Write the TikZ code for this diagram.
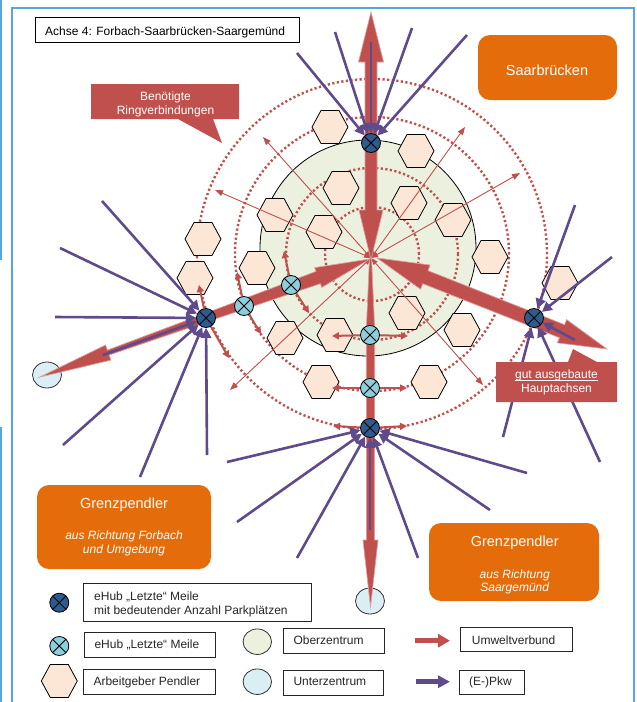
\documentclass[tikz,border=0pt]{standalone}
\usepackage{fontspec}
\setmainfont{Liberation Sans}
\usetikzlibrary{arrows.meta,shapes.geometric}
\definecolor{rd}{HTML}{C0504D}
\definecolor{pu}{HTML}{5F4B8B}
\definecolor{og}{HTML}{E46C0A}
\definecolor{gz}{HTML}{EBF1DE}
\definecolor{hx}{HTML}{FCE6D6}
\definecolor{dh}{HTML}{2E5B8C}
\definecolor{lh}{HTML}{8CCFDC}
\definecolor{uz}{HTML}{DAEEF3}
\definecolor{fr}{HTML}{58A6E0}
\pgfdeclarelayer{bg}
\pgfdeclarelayer{mid}
\pgfsetlayers{bg,mid,main}
\tikzset{
  hub/.style={circle, draw=black, line width=0.8pt, minimum size=19pt, inner sep=0pt,
    path picture={\draw[black, line width=0.8pt]
      (path picture bounding box.north west) -- (path picture bounding box.south east)
      (path picture bounding box.north east) -- (path picture bounding box.south west);}},
  dhub/.style={hub, fill=dh},
  lhub/.style={hub, fill=lh},
  hexa/.pic={\draw[fill=hx, line width=0.8pt] (-18,0) -- (-9,-16.5) -- (9,-16.5) -- (18,0) -- (9,16.5) -- (-9,16.5) -- cycle;},
  ring/.style={draw=rd, line width=2.4pt, dash pattern=on 2.2pt off 2.4pt},
  thinarr/.style={draw=rd, line width=0.9pt, {Triangle[length=7pt,width=5pt]}-{Triangle[length=8pt,width=6pt]}},
  ringarr/.style={draw=rd, line width=2pt, -{Triangle[length=7pt,width=7pt]}},
  pk/.style={draw=pu, line width=2.6pt, -{Triangle[length=10pt,width=10pt]}},
  bigred/.style={fill=rd, draw=rd!55!white, line width=0.7pt},
  uzent/.style={ellipse, draw=black!80, line width=0.8pt, fill=uz, minimum width=29pt, minimum height=26pt, inner sep=0pt},
  wt/.style={text=white, inner sep=0pt, anchor=base, font=\fontsize{12}{14}\selectfont},
  wtb/.style={text=white, inner sep=0pt, anchor=base, font=\fontsize{14.5}{16}\selectfont},
  lg/.style={draw=black!85, line width=0.9pt, fill=white},
  lt/.style={anchor=base west, inner sep=0pt, font=\fontsize{12}{14}\selectfont, text=black!85},
  obox/.style={fill=og, rounded corners=12pt, inner sep=0pt},
}
\begin{document}
\begin{tikzpicture}[x=1pt,y=-1pt]
\useasboundingbox (0,0) rectangle (637,702);
\coordinate (c) at (371,258);
\coordinate (rc) at (372,254);
% hubs
\node[dhub] (d1) at (371,143) {};
\node[dhub] (d2) at (206,318) {};
\node[dhub] (d3) at (534,318) {};
\node[dhub] (d4) at (370,428) {};
\node[lhub] (l1) at (291,285) {};
\node[lhub] (l2) at (244,306) {};
\node[lhub] (l3) at (370,335) {};
\node[lhub] (l4) at (370,388) {};

\begin{pgfonlayer}{bg}
  \fill[white] (0,0) rectangle (637,702);
  \draw[fr, line width=2pt] (12,704) -- (12,8) -- (634,8) -- (634,704);
  \draw[fr, line width=1.5pt] (1,0) -- (1,260) (1,427) -- (1,702);
  \node[circle, fill=gz, draw=black, line width=0.8pt, minimum size=216pt, inner sep=0pt] (oz) at (368,248) {};
  \foreach \r in {47pt,86pt,137pt,175pt} \draw[ring] (rc) circle[radius=\r];
  \foreach \p in {(330,127),(416,151),(341,188),(409,203),(275,215),(324,232),(203,239),(195,278),(257,268),(453,220),(490,257),(560,283),(407,313),(462,330),(335,335),(285,338),(321,382),(429,382)}
    \pic at \p {hexa};
  \node[uzent] (u1) at (47,375) {};
  \node[uzent] (u2) at (370,601) {};
  % thin radial arrows
  \coordinate (t1) at (263,137);
  \coordinate (t2) at (465,127);
  \coordinate (t3) at (520,173);
  \coordinate (t4) at (215,190);
  \coordinate (t5) at (230,390);
  \coordinate (t6) at (483,385);
  \foreach \t in {t1,t2,t3,t4,t5,t6} \draw[thinarr] (c) -- (\t);
  % big red arrows
  \path[bigred] (371,260) -- (383,210) -- (377,210) -- (377,62) -- (383.5,62) -- (371,12) -- (358.5,62) -- (365,62) -- (365,210) -- (359,210) -- cycle;
  \path[bigred] (369.5,258) -- (366.3,330) -- (366.5,540) -- (363,540) -- (370.5,607) -- (378,540) -- (374.5,540) -- (374.7,330) -- (371.5,258) -- cycle;
  \begin{scope}[shift={(370,259)}, rotate=-160.33]
    \path[bigred] (0,0) -- (55,10.5) -- (55,6.5) -- (174,4.2) -- (278,2.6) -- (278,8) -- (350.5,0) -- (278,-8) -- (278,-2.6) -- (174,-4.2) -- (55,-6.5) -- (55,-10.5) -- cycle;
  \end{scope}
  \begin{scope}[shift={(377,258)}, rotate=-21.59]
    \path[bigred] (0,0) -- (52,13) -- (52,7) -- (199,7) -- (199,12.5) -- (247.3,0) -- (199,-12.5) -- (199,-7) -- (52,-7) -- (52,-13) -- cycle;
  \end{scope}
\end{pgfonlayer}

\begin{pgfonlayer}{mid}
  % ring connections
  \coordinate (r21) at (199,285); \coordinate (r22) at (229,358);
  \coordinate (r31) at (237,272); \coordinate (r32) at (261,334);
  \coordinate (r41) at (284,251); \coordinate (r42) at (309,313);
  \coordinate (r51) at (332,336); \coordinate (r52) at (408,336);
  \coordinate (r61) at (332,388); \coordinate (r62) at (407,388);
  \coordinate (r71) at (333,426); \coordinate (r72) at (407,426);
  \draw[ringarr] (d2) -- (r21); \draw[ringarr] (d2) -- (r22);
  \draw[ringarr] (l2) -- (r31); \draw[ringarr] (l2) -- (r32);
  \draw[ringarr] (l1) -- (r41); \draw[ringarr] (l1) -- (r42);
  \draw[ringarr] (l3) -- (r51); \draw[ringarr] (l3) -- (r52);
  \draw[ringarr] (l4) -- (r61); \draw[ringarr] (l4) -- (r62);
  \draw[ringarr] (d4) -- (r71); \draw[ringarr] (d4) -- (r72);
  % car flows
  \coordinate (p11) at (297,53); \coordinate (p12) at (335,32); \coordinate (p13) at (371,42);
  \coordinate (p14) at (412,28); \coordinate (p15) at (467,35);
  \foreach \q in {p11,p12,p13,p14,p15} \draw[pk] (\q) -- (d1);
  \coordinate (p21) at (102,201); \coordinate (p22) at (60,248); \coordinate (p23) at (55,317);
  \coordinate (p24) at (103,355); \coordinate (p25) at (63,445); \coordinate (p26) at (140,477);
  \coordinate (p27) at (207,455);
  \foreach \q in {p21,p22,p23,p24,p25,p26,p27} \draw[pk] (\q) -- (d2);
  \coordinate (p31) at (575,205); \coordinate (p32) at (612,257); \coordinate (p33) at (575,340);
  \coordinate (p34) at (503,437); \coordinate (p35) at (600,462);
  \foreach \q in {p31,p32,p33,p34,p35} \draw[pk] (\q) -- (d3);
  \coordinate (p41) at (227,462); \coordinate (p42) at (237,522); \coordinate (p43) at (297,558);
  \coordinate (p44) at (370,530); \coordinate (p45) at (418,558); \coordinate (p46) at (490,510);
  \coordinate (p47) at (527,473);
  \foreach \q in {p41,p42,p43,p44,p45,p46,p47} \draw[pk] (\q) -- (d4);
\end{pgfonlayer}

% callouts
\fill[rd] (91,84) -- (239,84) -- (239,119) -- (213,119) -- (222,143) -- (178,119) -- (91,119) -- cycle;
\node[wt] (cb1) at (165.5,100) {Benötigte};
\node[wt] (cb2) at (165.5,114) {Ringverbindungen};
\fill[rd] (496,362) -- (568,362) -- (573,349) -- (597,362) -- (617,362) -- (617,402) -- (496,402) -- cycle;
\node[wt] (cg1) at (556.5,378.5) {gut ausgebaute};
\draw[white, line width=0.7pt, transform canvas={yshift=-1.8pt}] (cg1.base west) -- (cg1.base east);
\node[wt] (cg2) at (556.5,392) {Hauptachsen};

% orange boxes
\node[obox, minimum width=139pt, minimum height=65pt] (sb) at (547.5,67.5) {};
\node[wtb] (sbt) at (547,75) {Saarbrücken};
\node[obox, minimum width=174pt, minimum height=84pt] (gl) at (124,527) {};
\node[wtb] (glt) at (124,508) {Grenzpendler};
\node[wt, font=\fontsize{12}{14}\selectfont\itshape] (gl2) at (124,539) {aus Richtung Forbach};
\node[wt, font=\fontsize{12}{14}\selectfont\itshape] (gl3) at (124,553.3) {und Umgebung};
\node[obox, minimum width=170pt, minimum height=78pt] (gr) at (514,562) {};
\node[wtb] (grt) at (514.7,546) {Grenzpendler};
\node[wt, font=\fontsize{12}{14}\selectfont\itshape] (gr2) at (514.7,578.3) {aus Richtung};
\node[wt, font=\fontsize{12}{14}\selectfont\itshape] (gr3) at (514.7,591.7) {Saargemünd};

% title
\draw[lg, draw=black] (35,17) rectangle (299,42);
\node[lt, text=black] (tt) at (45,35) {Achse 4: Forbach-Saarbrücken-Saargemünd};

% legend
\node[dhub] (ld) at (59.3,602.7) {};
\draw[lg] (83.3,583.3) rectangle (311,621.7);
\node[lt] (lt1) at (94,600) {eHub „Letzte“ Meile};
\node[lt] (lt2) at (94,614) {mit bedeutender Anzahl Parkplätzen};
\node[lhub] (ll) at (59.3,646) {};
\draw[lg] (84,632.7) rectangle (215.7,657.3);
\node[lt] (lt3) at (94.3,648.3) {eHub „Letzte“ Meile};
\pic at (59.3,681) {hexa};
\draw[lg] (83.3,669.3) rectangle (215.7,694);
\node[lt] (lt4) at (93.3,685.7) {Arbeitgeber Pendler};
\node[ellipse, draw=black!80, line width=0.8pt, fill=gz, minimum width=28.5pt, minimum height=25.5pt, inner sep=0pt] (lo) at (257.3,641.7) {};
\draw[lg] (283.3,628.3) rectangle (384.3,653.3);
\node[lt] (lt5) at (293.3,644) {Oberzentrum};
\node[uzent, minimum width=28.5pt, minimum height=25.5pt] (lu) at (257.3,681.7) {};
\draw[lg] (283.3,670) rectangle (383.3,695);
\node[lt] (lt6) at (293.3,685.7) {Unterzentrum};
\coordinate (la1) at (415,640.7); \coordinate (la2) at (450,640.7);
\draw[rd, line width=5pt, -{Triangle[length=12pt,width=13pt]}] (la1) -- (la2);
\draw[lg] (460.7,627.7) rectangle (572.3,651.7);
\node[lt] (lt7) at (471.7,644) {Umweltverbund};
\coordinate (lb1) at (415.7,681.7); \coordinate (lb2) at (450,681.7);
\draw[pu, line width=5pt, -{Triangle[length=12pt,width=12pt]}] (lb1) -- (lb2);
\draw[lg] (459.3,670) rectangle (524.3,694.3);
\node[lt] (lt8) at (469,685.7) {(E-)Pkw};
\end{tikzpicture}
\end{document}
